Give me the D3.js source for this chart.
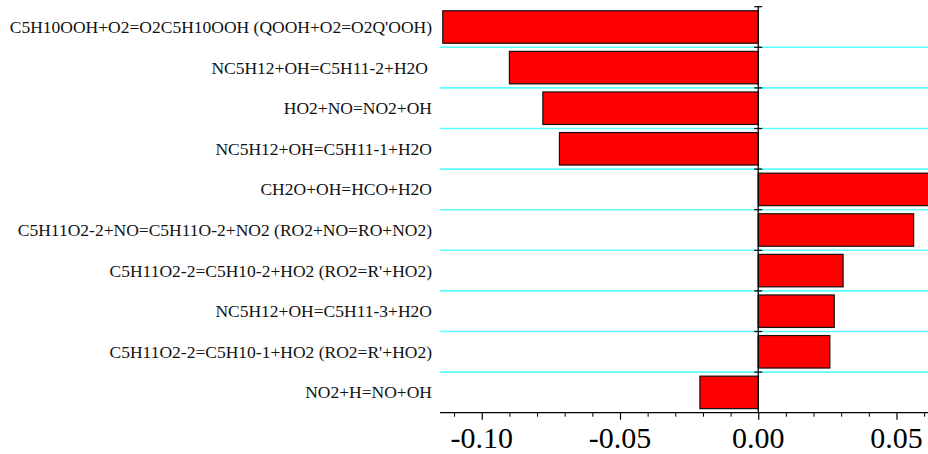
<!DOCTYPE html>
<html>
<head>
<meta charset="utf-8">
<script src="https://cdn.jsdelivr.net/npm/d3@7"></script>
</head>
<body style="margin:0;background:#fff">
<div id="wrap" style="position:relative;width:928px;height:454px;overflow:hidden">
<svg id="chart" width="928" height="454" style="position:absolute;left:0;top:0"></svg>
</div>
<script>
const reactions = [
  "C5H10OOH+O2=O2C5H10OOH (QOOH+O2=O2Q'OOH)",
  "NC5H12+OH=C5H11-2+H2O",
  "HO2+NO=NO2+OH",
  "NC5H12+OH=C5H11-1+H2O",
  "CH2O+OH=HCO+H2O",
  "C5H11O2-2+NO=C5H11O-2+NO2 (RO2+NO=RO+NO2)",
  "C5H11O2-2=C5H10-2+HO2 (RO2=R'+HO2)",
  "NC5H12+OH=C5H11-3+H2O",
  "C5H11O2-2=C5H10-1+HO2 (RO2=R'+HO2)",
  "NO2+H=NO+OH"
];
const sensitivity = [-0.1141, -0.0900, -0.0779, -0.0719, 0.0625, 0.0562, 0.0307, 0.0275, 0.0259, -0.0211];
const majorTicks = [-0.10, -0.05, 0.00, 0.05];
const majorTickLabels = ["-0.10", "-0.05", "0.00", "0.05"];
const minorTicks = [-0.11, -0.09, -0.08, -0.07, -0.06, -0.04, -0.03, -0.02, -0.01, 0.01, 0.02, 0.03, 0.04, 0.06];
const xDomain = [-0.1151, 0.0614];

const FONT = '"Liberation Serif"';
const svg = d3.select("#chart");
const wrap = d3.select("#wrap");
const plot = { left: 440, right: 928, top: 6.7, bottom: 412.7 };

const x = d3.scaleLinear().domain(xDomain).range([plot.left, plot.right]);
const y = d3.scaleBand().domain(reactions).range([plot.top, plot.bottom])
  .paddingInner(0.2).paddingOuter(0.1);
const step = y.step();

svg.append("defs").append("clipPath").attr("id", "plotclip")
  .append("rect").attr("x", plot.left).attr("y", 0)
  .attr("width", plot.right - plot.left + 1).attr("height", plot.bottom + 1);

// grid lines between rows (cyan)
const boundaries = d3.range(1, reactions.length).map(i => plot.top + i * step);
svg.append("g").selectAll("line").data(boundaries).join("line")
  .attr("x1", plot.left).attr("x2", plot.right)
  .attr("y1", d => d).attr("y2", d => d)
  .attr("stroke", "#5cffff").attr("stroke-width", 1.6);

// bars
svg.append("g").attr("clip-path", "url(#plotclip)")
  .selectAll("rect").data(reactions).join("rect")
  .attr("x", (d, i) => Math.min(x(0), x(sensitivity[i])))
  .attr("y", d => y(d))
  .attr("width", (d, i) => Math.abs(x(sensitivity[i]) - x(0)))
  .attr("height", y.bandwidth())
  .attr("fill", "#ff0000")
  .attr("stroke", "#111")
  .attr("stroke-width", 1.2);

// x axis: line + tick marks via d3 axis
const xAxisG = svg.append("g").attr("transform", `translate(0,${plot.bottom})`);
xAxisG.append("line").attr("x1", plot.left).attr("x2", plot.right)
  .attr("y1", 0).attr("y2", 0).attr("stroke", "#000").attr("stroke-width", 1.3);
const majorAxis = d3.axisBottom(x).tickValues(majorTicks).tickFormat("").tickSize(7);
const mg = xAxisG.append("g").call(majorAxis);
mg.select(".domain").remove();
mg.selectAll(".tick line").attr("stroke", "#000").attr("stroke-width", 1.2);
const minorAxis = d3.axisBottom(x).tickValues(minorTicks).tickFormat("").tickSize(4);
const ng = xAxisG.append("g").call(minorAxis);
ng.select(".domain").remove();
ng.selectAll(".tick line").attr("stroke", "#000").attr("stroke-width", 1);

// y axis at zero
const zx = x(0);
svg.append("line").attr("x1", zx).attr("x2", zx)
  .attr("y1", plot.top - 0.5).attr("y2", plot.bottom)
  .attr("stroke", "#000").attr("stroke-width", 1.3);
const yTicks = d3.range(0, reactions.length).map(i => plot.top + i * step);
svg.append("g").selectAll("line").data(yTicks).join("line")
  .attr("x1", zx - 4).attr("x2", zx + 4)
  .attr("y1", d => d).attr("y2", d => d)
  .attr("stroke", "#000").attr("stroke-width", 1.2);

// x tick labels (HTML text positioned by the scale)
wrap.selectAll("div.xtick").data(majorTicks).join("div")
  .attr("class", "xtick")
  .style("position", "absolute")
  .style("left", d => (x(d) - 50) + "px")
  .style("width", "100px")
  .style("text-align", "center")
  .style("top", (plot.bottom + 8.5) + "px")
  .style("font-family", FONT)
  .style("font-size", "30px")
  .style("line-height", "34px")
  .style("color", "#000")
  .style("white-space", "pre")
  .text((d, i) => majorTickLabels[i]);

// category labels (HTML text positioned by the band scale)
wrap.selectAll("div.lab").data(reactions).join("div")
  .attr("class", "lab")
  .style("position", "absolute")
  .style("right", (d, i) => (928 - (i === 1 ? 428 : 432)) + "px")
  .style("top", d => (y(d) + y.bandwidth() / 2 - 10) + "px")
  .style("font-family", FONT)
  .style("font-size", "17.5px")
  .style("line-height", "20px")
  .style("color", "#111")
  .style("white-space", "pre")
  .text(d => d);
</script>
</body>
</html>
